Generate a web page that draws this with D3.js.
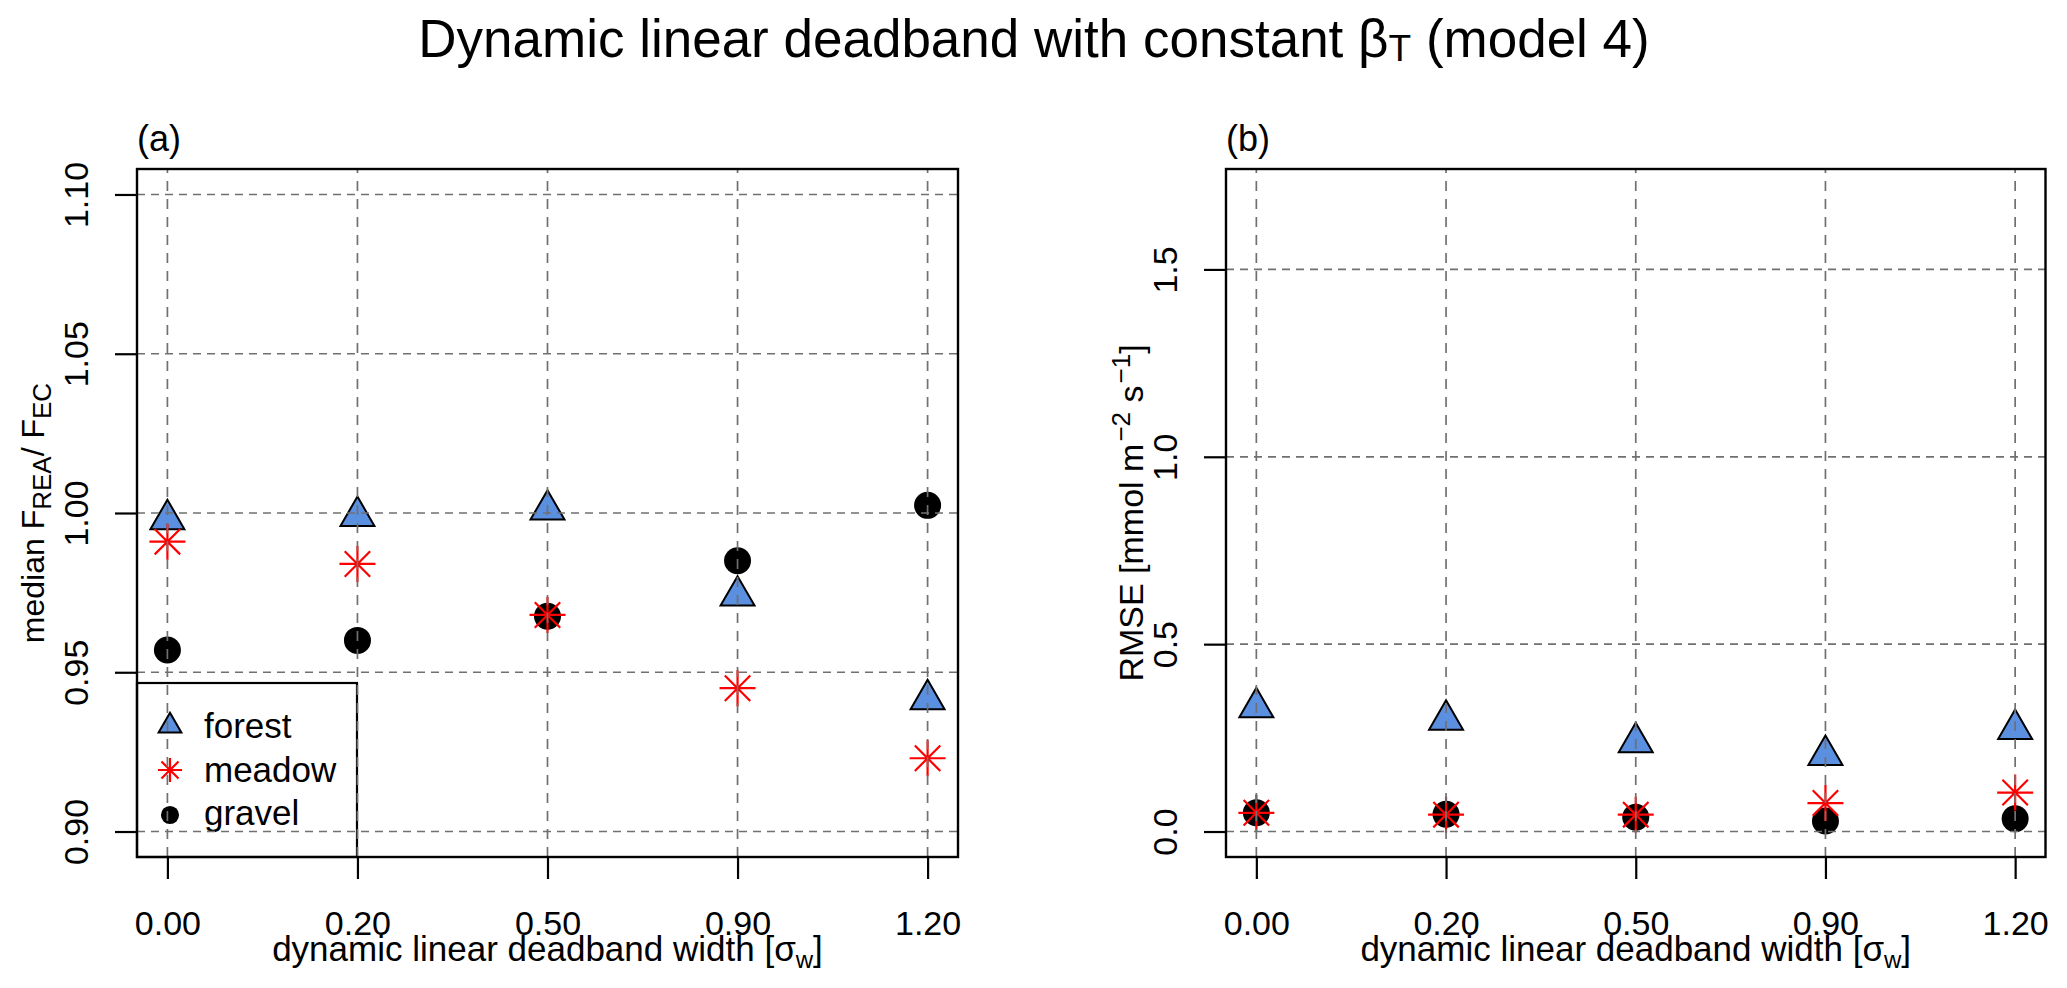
<!DOCTYPE html>
<html>
<head>
<meta charset="utf-8">
<title>Dynamic linear deadband with constant beta_T (model 4)</title>
<script src="https://cdn.jsdelivr.net/npm/d3@7"></script>
<style>
body { margin: 0; background: #fff; }
text { font-family: "Liberation Sans", Arial, Helvetica, sans-serif; fill: #000; }
</style>
</head>
<body>
<script>
// deadband widths (x categories)
var categories = ["0.00", "0.20", "0.50", "0.90", "1.20"];
var siteNames = ["forest", "meadow", "gravel"];

// panel (a): median F_REA / F_EC
var ratioForest = [0.998, 0.999, 1.001, 0.974, 0.9415];
var ratioMeadow = [0.991, 0.984, 0.968, 0.945, 0.923];
var ratioGravel = [0.957, 0.960, 0.9676, 0.985, 1.0024];
var ratioTicks = [0.90, 0.95, 1.00, 1.05, 1.10];

// panel (b): RMSE
var rmseForest = [0.331, 0.298, 0.238, 0.204, 0.273];
var rmseMeadow = [0.050, 0.045, 0.045, 0.076, 0.104];
var rmseGravel = [0.050, 0.046, 0.038, 0.028, 0.034];
var rmseTicks = [0.0, 0.5, 1.0, 1.5];

var w = 2067, h = 988;
var plotTop = 169, plotBottom = 857;
var forestCol = "#5b8fe0";
var gridCol = "#707070";

var svg = d3.select("body").append("svg")
  .attr("width", w)
  .attr("height", h);
svg.append("rect").attr("width", w).attr("height", h).attr("fill", "white");

// title
var title = svg.append("text").attr("x", 1034).attr("y", 57)
  .attr("text-anchor", "middle").attr("font-size", 53);
title.append("tspan").text("Dynamic linear deadband with constant \u03b2");
title.append("tspan").attr("font-size", 37).attr("dy", 4).text("T");
title.append("tspan").attr("dy", -4).text(" (model 4)");

function starPath(a) {
  var d = a / Math.SQRT2;
  var p = d3.path();
  p.moveTo(-a, 0); p.lineTo(a, 0);
  p.moveTo(0, -a); p.lineTo(0, a);
  p.moveTo(-d, -d); p.lineTo(d, d);
  p.moveTo(-d, d); p.lineTo(d, -d);
  return p.toString();
}

function addMarker(g, site, px, py, k) {
  if (site == "forest") {
    g.append("path")
      .attr("d", d3.symbol(d3.symbolTriangle, 500 * k * k)())
      .attr("transform", "translate(" + px + "," + py + ")")
      .attr("fill", forestCol).attr("stroke", "black").attr("stroke-width", 2);
  } else if (site == "meadow") {
    g.append("path")
      .attr("d", starPath(18 * k))
      .attr("transform", "translate(" + px + "," + py + ")")
      .attr("fill", "none").attr("stroke", "red").attr("stroke-width", 2.2);
  } else {
    g.append("circle")
      .attr("cx", px).attr("cy", py).attr("r", 13.5 * k)
      .attr("fill", "black");
  }
}

function drawPanel(opt) {
  var g = svg.append("g");
  var x = d3.scalePoint().domain(categories).range([opt.left, opt.right]).padding(0.16);
  var y = d3.scaleLinear().domain(opt.yDomain).range([plotBottom, plotTop]);

  // legend (only panel a)
  if (opt.legend) {
    g.append("rect")
      .attr("x", opt.left).attr("y", 683)
      .attr("width", 220).attr("height", plotBottom - 683)
      .attr("fill", "none").attr("stroke", "black").attr("stroke-width", 2.2);
    var rowY = [726, 770, 815];
    var txtY = [738, 782, 825];
    siteNames.forEach(function(s, i) {
      addMarker(g, s, opt.left + 33, rowY[i], 0.67);
      g.append("text").attr("x", opt.left + 67).attr("y", txtY[i])
        .attr("font-size", 35).text(s);
    });
  }

  // points: forest, gravel, then meadow on top
  var series = {forest: opt.forest, meadow: opt.meadow, gravel: opt.gravel};
  ["forest", "gravel", "meadow"].forEach(function(s) {
    series[s].forEach(function(v, i) {
      addMarker(g, s, x(categories[i]), y(v), 1);
    });
  });

  // dashed grid on top of the points
  g.selectAll(".hgrid").data(opt.ticks).enter().append("line")
    .attr("x1", opt.left).attr("x2", opt.right)
    .attr("y1", function(d) { return y(d); })
    .attr("y2", function(d) { return y(d); })
    .attr("stroke", gridCol).attr("stroke-width", 1.7)
    .attr("stroke-dasharray", "8,6");
  g.selectAll(".vgrid").data(categories).enter().append("line")
    .attr("x1", function(d) { return x(d); })
    .attr("x2", function(d) { return x(d); })
    .attr("y1", plotBottom).attr("y2", plotTop)
    .attr("stroke", gridCol).attr("stroke-width", 1.7)
    .attr("stroke-dasharray", "10,8");

  // box
  g.append("rect")
    .attr("x", opt.left).attr("y", plotTop)
    .attr("width", opt.right - opt.left).attr("height", plotBottom - plotTop)
    .attr("fill", "none").attr("stroke", "black").attr("stroke-width", 2.4);

  // y axis, labels turned like R (las = 0)
  var ya = g.append("g").attr("transform", "translate(" + opt.left + ",0)")
    .call(d3.axisLeft(y).tickValues(opt.ticks).tickSize(22).tickFormat(d3.format(opt.fmt)));
  ya.select(".domain").remove();
  ya.attr("font-family", null).attr("font-size", 34);
  ya.selectAll(".tick line").attr("stroke", "black").attr("stroke-width", 2.2);
  ya.selectAll(".tick text")
    .attr("x", 0).attr("y", -49).attr("dy", 0)
    .attr("text-anchor", "middle")
    .attr("transform", "rotate(-90)");

  // x axis
  var xa = g.append("g").attr("transform", "translate(0," + plotBottom + ")")
    .call(d3.axisBottom(x).tickSize(22));
  xa.select(".domain").remove();
  xa.attr("font-family", null).attr("font-size", 34);
  xa.selectAll(".tick line").attr("stroke", "black").attr("stroke-width", 2.2);
  xa.selectAll(".tick text").attr("y", 78).attr("dy", 0);

  // x title
  var mid = (opt.left + opt.right) / 2;
  var xt = g.append("text").attr("x", mid).attr("y", 961)
    .attr("text-anchor", "middle").attr("font-size", 35);
  xt.append("tspan").text("dynamic linear deadband width [\u03c3");
  xt.append("tspan").attr("font-size", 24).attr("dy", 7).text("w");
  xt.append("tspan").attr("dy", -7).text("]");

  // panel letter
  g.append("text").attr("x", opt.left).attr("y", 151)
    .attr("font-size", 36).text(opt.letter);

  // y title
  var yt = g.append("text")
    .attr("transform", "translate(" + opt.yTitleX + "," + ((plotTop + plotBottom) / 2) + ") rotate(-90)")
    .attr("text-anchor", "middle").attr("font-size", opt.yTitleSize);
  opt.yTitle.forEach(function(part) {
    var t = yt.append("tspan").text(part.t);
    if (part.small) t.attr("font-size", 26);
    if (part.dy) t.attr("dy", part.dy);
    if (part.dx) t.attr("dx", part.dx);
  });
}

drawPanel({
  left: 137, right: 958,
  yDomain: [0.892, 1.108],
  ticks: ratioTicks, fmt: ".2f",
  forest: ratioForest, meadow: ratioMeadow, gravel: ratioGravel,
  legend: true, letter: "(a)",
  yTitleX: 44, yTitleSize: 32,
  yTitle: [
    {t: "median F"}, {t: "REA", small: true, dy: 7}, {t: "/ F", dy: -7}, {t: "EC", small: true, dy: 7}
  ]
});

drawPanel({
  left: 1226, right: 2045.5,
  yDomain: [-0.068, 1.768],
  ticks: rmseTicks, fmt: ".1f",
  forest: rmseForest, meadow: rmseMeadow, gravel: rmseGravel,
  legend: false, letter: "(b)",
  yTitleX: 1143, yTitleSize: 34,
  yTitle: [
    {t: "RMSE [mmol m"},
    {t: "\u22122", small: true, dy: -13, dx: 2},
    {t: " s", dy: 13},
    {t: "\u22121", small: true, dy: -13, dx: 2},
    {t: "]", dy: 13}
  ]
});
</script>
</body>
</html>
